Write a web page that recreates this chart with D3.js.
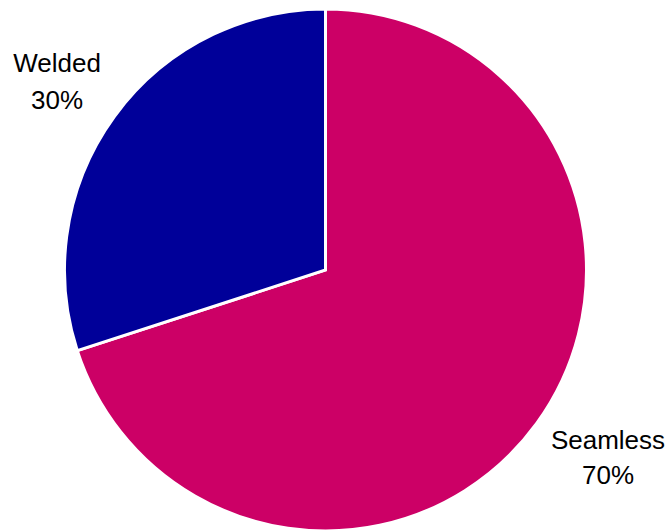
<!DOCTYPE html>
<html>
<head>
<meta charset="utf-8">
<script src="https://cdn.jsdelivr.net/npm/d3@7"></script>
<style>
  html, body { margin: 0; padding: 0; background: #fff; }
</style>
</head>
<body>
<div id="chart"></div>
<script>
var categories = ["Seamless", "Welded"]
var values = [70, 30]
var colors = ["#CC0066", "#000099"]

var width = 672, height = 530
var cx = 325.5, cy = 270, radius = 261

var svg = d3.select("#chart")
    .append("svg")
    .attr("width", width)
    .attr("height", height)

var g = svg.append("g")
    .attr("transform", `translate(${cx},${cy})`)

var data = categories.map((c, i) => ({ name: c, value: values[i] }))

var pie = d3.pie()
    .sort(null)
    .value(d => d.value)

var arc = d3.arc()
    .innerRadius(0)
    .outerRadius(radius)

g.selectAll("path")
    .data(pie(data))
    .join("path")
    .attr("d", arc)
    .attr("fill", (d, i) => colors[i])
    .attr("stroke", "#fff")
    .attr("stroke-width", 3)
    .attr("stroke-linejoin", "miter")

// label positions (picked by eye from the reference)
var labelPos = [
    { x: 608, y1: 449, y2: 484 },
    { x: 57, y1: 72, y2: 109 }
]
var total = d3.sum(values)

var labels = svg.selectAll("g.label")
    .data(data)
    .join("g")
    .attr("class", "label")
    .style("font-family", "Arial, 'Liberation Sans', sans-serif")
    .style("font-size", "26px")
    .attr("fill", "#000")
    .attr("text-anchor", "middle")

labels.append("text")
    .attr("x", (d, i) => labelPos[i].x)
    .attr("y", (d, i) => labelPos[i].y1)
    .text(d => d.name)

labels.append("text")
    .attr("x", (d, i) => labelPos[i].x)
    .attr("y", (d, i) => labelPos[i].y2)
    .text(d => Math.round(d.value / total * 100) + "%")
</script>
</body>
</html>
